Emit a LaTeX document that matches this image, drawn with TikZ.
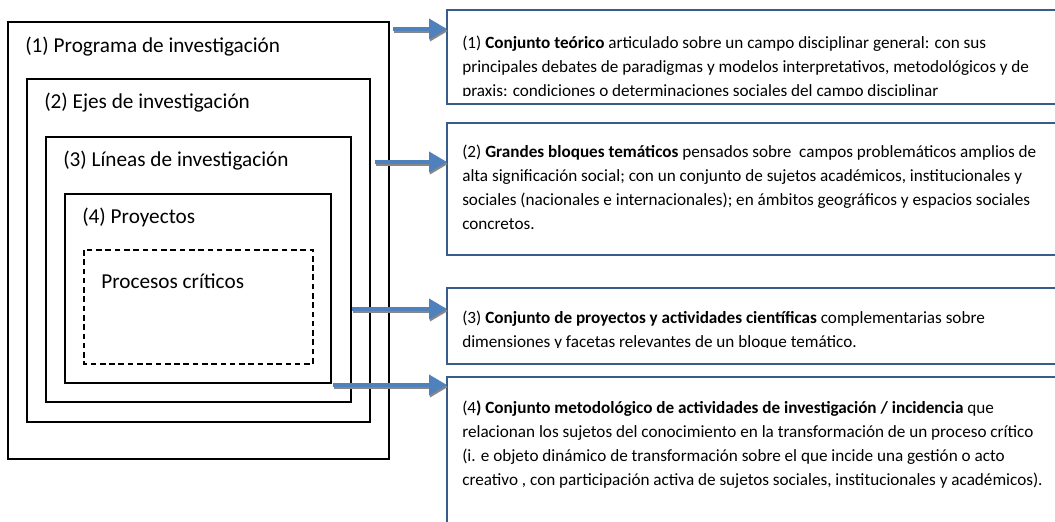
\documentclass[tikz,border=0pt]{standalone}
\usepackage{fontspec}
\setmainfont{Carlito}
\usetikzlibrary{arrows.meta, positioning}
\definecolor{marco}{RGB}{56,93,138}
\definecolor{flechaazul}{RGB}{79,129,189}
\definecolor{sombra}{RGB}{135,135,135}
\tikzset{
    caja/.style={draw=black, line width=1pt},
    cajadesc/.style={draw=marco, line width=1.1pt},
    rotulo/.style={anchor=base west, inner sep=0pt,
        font=\fontsize{15.1}{18}\selectfont},
    desc/.style={anchor=north west, inner sep=0pt, align=left,
        font=\fontsize{12.2}{17.07}\selectfont},
    flecha/.style={-{Triangle[length=12.8pt, width=14.2pt]},
        line width=2.85pt, color=flechaazul},
    sombrita/.style={flecha, color=sombra,
        transform canvas={xshift=0.7pt, yshift=-1.4pt}},
}

\begin{document}
\begin{tikzpicture}[x=0.025cm, y=-0.025cm]
        \useasboundingbox (0, 0) rectangle (1055, 521);
        \clip (0, 0) rectangle (1055, 521);
        % cajas anidadas
        \draw[caja] (8, 22) rectangle (389, 459);
        \draw[caja] (27, 79) rectangle (370, 422);
        \draw[caja] (46, 137) rectangle (351, 402);
        \draw[caja] (65, 194) rectangle (331, 383);
        \draw[caja, dash pattern=on 4pt off 2.6pt] (84, 250) rectangle (313, 364);
        \node[rotulo] (prog) at (25, 52) {(1) Programa de investigación};
        \node[rotulo] (ejes) at (44, 108) {(2) Ejes de investigación};
        \node[rotulo] (lineas) at (63, 166) {(3) Líneas de investigación};
        \node[rotulo] (proy) at (82, 223) {(4) Proyectos};
        \node[rotulo] (procesos) at (101, 288) {Procesos críticos};
        % cajas de descripcion
        \draw[cajadesc] (447, 10) rectangle (1080, 104);
        \draw[cajadesc] (447, 123) rectangle (1080, 255);
        \draw[cajadesc] (447, 288) rectangle (1080, 364);
        \draw[cajadesc] (447, 377) rectangle (1080, 540);
        \coordinate (descA) at (447, 10);
        \coordinate (descB) at (447, 123);
        \coordinate (descC) at (447, 288);
        \coordinate (descD) at (447, 377);
        \begin{scope}
            \clip (447, 10) rectangle (1080, 95);
            \node[desc] (textoA) at (462, 36) {(1) \textbf{Conjunto teórico} articulado sobre un campo disciplinar general: con sus\\
                principales debates de paradigmas y modelos interpretativos, metodológicos y de\\
                praxis: condiciones o determinaciones sociales del campo disciplinar};
        \end{scope}
        \node[desc] (textoB) at (462, 145) {(2) \textbf{Grandes bloques temáticos} pensados sobre\ \ campos problemáticos amplios de\\
            alta significación social; con un conjunto de sujetos académicos, institucionales y\\
            sociales (nacionales e internacionales); en ámbitos geográficos y espacios sociales\\
            concretos.};
        \begin{scope}
            \clip (447, 288) rectangle (1080, 347.5);
            \node[desc] (textoC) at (462, 311) {(3) \textbf{Conjunto de proyectos y actividades científicas} complementarias sobre\\
                dimensiones y facetas relevantes de un bloque temático.};
        \end{scope}
        \node[desc] (textoD) at (462, 400) {(4\textbf{) Conjunto metodológico de actividades de investigación / incidencia} que\\
            relacionan los sujetos del conocimiento en la transformación de un proceso crítico\\
            (i. e objeto dinámico de transformación sobre el que incide una gestión o acto\\
            creativo , con participación activa de sujetos sociales, institucionales y académicos).};
        % flechas
        \coordinate (a1) at (393, 29);
        \coordinate (a2) at (375, 162);
        \coordinate (a3) at (352, 309);
        \coordinate (a4) at (333, 385);
        \draw[sombrita] (a1) -- (a1 -| descA);
        \draw[flecha] (a1) -- (a1 -| descA);
        \draw[sombrita] (a2) -- (a2 -| descB);
        \draw[flecha] (a2) -- (a2 -| descB);
        \draw[sombrita] (a3) -- (a3 -| descC);
        \draw[flecha] (a3) -- (a3 -| descC);
        \draw[sombrita] (a4) -- (a4 -| descD);
        \draw[flecha] (a4) -- (a4 -| descD);
    \end{tikzpicture}
\end{document}
